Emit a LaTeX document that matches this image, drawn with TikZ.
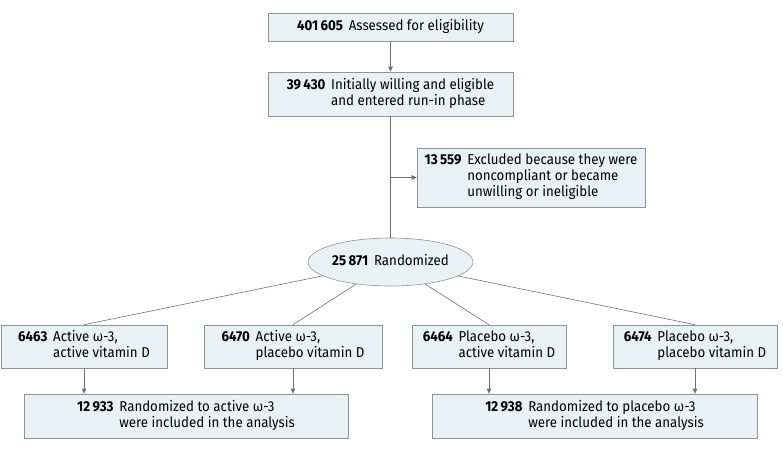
\documentclass[tikz,border=0pt]{standalone}
\usepackage{fontspec}
\setmainfont{Fira Sans}[FakeStretch=0.93]
\usetikzlibrary{arrows.meta,positioning,shapes.geometric}
\definecolor{boxFill}{RGB}{232,241,243}
\definecolor{boxDraw}{RGB}{140,148,150}
\definecolor{lineGray}{RGB}{112,112,112}
\newcommand{\tally}[2]{\textbf{#1}\hspace{0.4em}\begin{tabular}[t]{@{}l@{}}#2\end{tabular}}

\begin{document}
\begin{tikzpicture}[
    x=1pt, y=-1pt,
    font=\fontsize{14.3}{15.4}\selectfont,
    flowbox/.style={
        rectangle, draw=boxDraw, line width=0.6pt, fill=boxFill,
        inner sep=0pt, align=center
    },
    randbox/.style={
        ellipse, draw=boxDraw, line width=0.6pt, fill=boxFill,
        inner sep=0pt, minimum width=164pt, minimum height=48pt
    },
    link/.style={line width=0.6pt, draw=lineGray},
    arr/.style={link, -{Triangle[length=5pt, width=4.5pt]}}
]
    \useasboundingbox (0,0) rectangle (783,452);

    % Enrollment
    \node [flowbox, minimum width=245pt, minimum height=28pt] (assess) at (390.5, 27)
        {\tally{401\,605}{Assessed for eligibility}};
    \node [flowbox, minimum width=245pt, minimum height=44pt] (runin) at (390.5, 94)
        {\tally{39\,430}{Initially willing and eligible\\and entered run-in phase}};
    \node [flowbox, minimum width=228pt, minimum height=59pt] (excl) at (531, 177.5)
        {\tally{13\,559}{Excluded because they were\\noncompliant or became\\unwilling or ineligible}};
    \node [randbox] (rand) at (390.5, 262) {\tally{25\,871}{Randomized}};

    % Allocation
    \node [flowbox, minimum width=166pt, minimum height=43pt] (armA) at (84, 346.5)
        {\tally{6463}{Active ω-3,\\active vitamin D}};
    \node [flowbox, minimum width=178pt, minimum height=43pt] (armB) at (293, 346.5)
        {\tally{6470}{Active ω-3,\\placebo vitamin D}};
    \node [flowbox, minimum width=154pt, minimum height=43pt] (armC) at (489, 346.5)
        {\tally{6464}{Placebo ω-3,\\active vitamin D}};
    \node [flowbox, minimum width=164pt, minimum height=43pt] (armD) at (695, 346.5)
        {\tally{6474}{Placebo ω-3,\\placebo vitamin D}};

    % Analysis
    \node [flowbox, minimum width=324pt, minimum height=44pt] (poolA) at (186, 416)
        {\tally{12\,933}{Randomized to active ω-3\\were included in the analysis}};
    \node [flowbox, minimum width=325pt, minimum height=44pt] (poolB) at (594.5, 416)
        {\tally{12\,938}{Randomized to placebo ω-3\\were included in the analysis}};

    % Connectors
    \draw [arr] (assess) -- (runin);
    \draw [link] (runin.south) -- (rand.north);
    \coordinate (split) at (runin.south |- excl.west);
    \draw [arr] (split) -- (excl.west);
    \foreach \arm in {armA, armB, armC, armD}
        \draw [link] (rand) -- (\arm.north);
    \draw [arr] (armA.south) -- (armA.south |- poolA.north);
    \draw [arr] (armB.south) -- (armB.south |- poolA.north);
    \draw [arr] (armC.south) -- (armC.south |- poolB.north);
    \draw [arr] (armD.south) -- (armD.south |- poolB.north);
\end{tikzpicture}
\end{document}
